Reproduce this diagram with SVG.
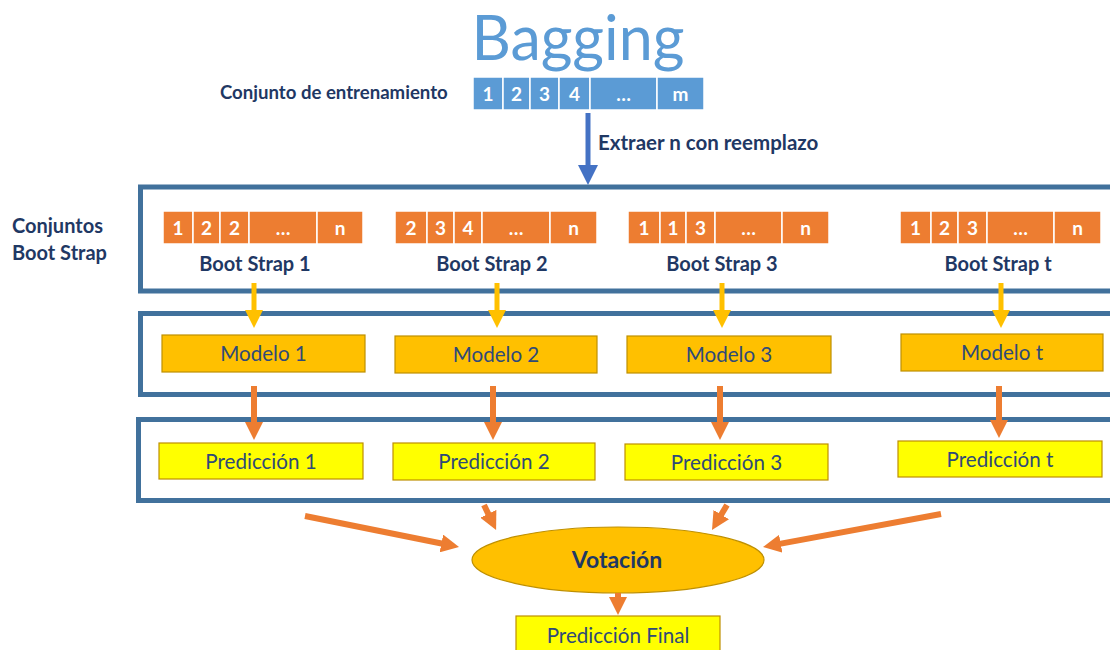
<svg xmlns="http://www.w3.org/2000/svg" width="1110" height="650" viewBox="0 0 1110 650">
  <style>
    .title { font-family: Lato, "Open Sans", sans-serif; font-size: 61px; fill: #5B9BD5; text-anchor: middle; }
    .lbl { font-family: Lato, "Open Sans", sans-serif; font-weight: bold; font-size: 20px; fill: #1F3864; }
    .mid { text-anchor: middle; }
    .cellB { fill: #5B9BD5; stroke: #ffffff; stroke-width: 1.5; }
    .cellO { fill: #ED7D31; stroke: #ffffff; stroke-width: 1.5; }
    .num { font-family: Lato, "Open Sans", sans-serif; font-weight: bold; font-size: 19px; fill: #ffffff; text-anchor: middle; }
    .frame { fill: none; stroke: #41719C; stroke-width: 5; }
    .model { fill: #FFC000; stroke: #BF9000; stroke-width: 1.2; }
    .pred { fill: #FFFF00; stroke: #BF9000; stroke-width: 1.2; }
    .txt { font-family: Lato, "Open Sans", sans-serif; font-size: 20.6px; fill: #2F4A78; text-anchor: middle; }
    .aY { stroke: #FFC000; stroke-width: 5; fill: none; marker-end: url(#hY); }
    .aO { stroke: #ED7D31; stroke-width: 6; fill: none; marker-end: url(#hO); }
    .aB { stroke: #4472C4; stroke-width: 5; fill: none; marker-end: url(#hB); }
  </style>
  <defs>
    <marker id="hY" markerUnits="userSpaceOnUse" markerWidth="18" markerHeight="18" refX="4" refY="9" orient="auto">
      <path d="M0,0 L18,9 L0,18 z" fill="#FFC000"/>
    </marker>
    <marker id="hO" markerUnits="userSpaceOnUse" markerWidth="18" markerHeight="18" refX="4" refY="9" orient="auto">
      <path d="M0,0 L18,9 L0,18 z" fill="#ED7D31"/>
    </marker>
    <marker id="hB" markerUnits="userSpaceOnUse" markerWidth="20" markerHeight="20" refX="4" refY="10" orient="auto">
      <path d="M0,0 L20,10 L0,20 z" fill="#4472C4"/>
    </marker>
  </defs>

  <rect width="1110" height="650" fill="#ffffff"/>

  <!-- title and training set -->
  <g id="title">
    <text class="title" x="578" y="60">Bagging</text>
  </g>
  <g id="training-set">
    <text class="lbl" x="220" y="99" style="font-size:18.6px">Conjunto de entrenamiento</text>
    <rect class="cellB" x="473" y="77" width="30" height="33"/>
    <rect class="cellB" x="503" y="77" width="27" height="33"/>
    <rect class="cellB" x="530" y="77" width="29" height="33"/>
    <rect class="cellB" x="559" y="77" width="31" height="33"/>
    <rect class="cellB" x="590" y="77" width="67" height="33"/>
    <rect class="cellB" x="657" y="77" width="47" height="33"/>
    <text class="num" x="488" y="100.5">1</text>
    <text class="num" x="516.5" y="100.5">2</text>
    <text class="num" x="544.5" y="100.5">3</text>
    <text class="num" x="574.5" y="100.5">4</text>
    <text class="num" x="623.5" y="100.5">…</text>
    <text class="num" x="680.5" y="100.5">m</text>
  </g>
  <text class="lbl" x="598" y="150" style="font-size:20.5px">Extraer n con reemplazo</text>

  <!-- stage frames -->
  <g id="frames">
    <rect class="frame" x="140.5" y="187" width="1000" height="104"/>
    <rect class="frame" x="140.5" y="313.5" width="1000" height="81"/>
    <rect class="frame" x="138.5" y="419.5" width="1000" height="81"/>
  </g>
  <text class="lbl" x="12" y="233">Conjuntos</text>
  <text class="lbl" x="12" y="260">Boot Strap</text>

  <!-- bootstrap samples -->
  <g id="bootstrap-1">
    <rect class="cellO" x="163" y="211" width="30" height="33"/>
    <rect class="cellO" x="193" y="211" width="27" height="33"/>
    <rect class="cellO" x="220" y="211" width="29" height="33"/>
    <rect class="cellO" x="249" y="211" width="68" height="33"/>
    <rect class="cellO" x="317" y="211" width="46" height="33"/>
    <text class="num" x="178" y="234.5">1</text>
    <text class="num" x="206.5" y="234.5">2</text>
    <text class="num" x="234.5" y="234.5">2</text>
    <text class="num" x="283" y="234.5">…</text>
    <text class="num" x="340" y="234.5">n</text>
    <text class="lbl mid" x="255" y="271">Boot Strap 1</text>
  </g>
  <g id="bootstrap-2">
    <rect class="cellO" x="395" y="211" width="32" height="33"/>
    <rect class="cellO" x="427" y="211" width="27" height="33"/>
    <rect class="cellO" x="454" y="211" width="28" height="33"/>
    <rect class="cellO" x="482" y="211" width="68" height="33"/>
    <rect class="cellO" x="550" y="211" width="47" height="33"/>
    <text class="num" x="411" y="234.5">2</text>
    <text class="num" x="440.5" y="234.5">3</text>
    <text class="num" x="468" y="234.5">4</text>
    <text class="num" x="516" y="234.5">…</text>
    <text class="num" x="573.5" y="234.5">n</text>
    <text class="lbl mid" x="492" y="271">Boot Strap 2</text>
  </g>
  <g id="bootstrap-3">
    <rect class="cellO" x="628" y="211" width="32" height="33"/>
    <rect class="cellO" x="660" y="211" width="26" height="33"/>
    <rect class="cellO" x="686" y="211" width="29" height="33"/>
    <rect class="cellO" x="715" y="211" width="67" height="33"/>
    <rect class="cellO" x="782" y="211" width="47" height="33"/>
    <text class="num" x="644" y="234.5">1</text>
    <text class="num" x="673" y="234.5">1</text>
    <text class="num" x="700.5" y="234.5">3</text>
    <text class="num" x="748.5" y="234.5">…</text>
    <text class="num" x="805.5" y="234.5">n</text>
    <text class="lbl mid" x="722" y="271">Boot Strap 3</text>
  </g>
  <g id="bootstrap-t">
    <rect class="cellO" x="900" y="211" width="31" height="33"/>
    <rect class="cellO" x="931" y="211" width="27" height="33"/>
    <rect class="cellO" x="958" y="211" width="29" height="33"/>
    <rect class="cellO" x="987" y="211" width="67" height="33"/>
    <rect class="cellO" x="1054" y="211" width="47" height="33"/>
    <text class="num" x="915.5" y="234.5">1</text>
    <text class="num" x="944.5" y="234.5">2</text>
    <text class="num" x="972.5" y="234.5">3</text>
    <text class="num" x="1020.5" y="234.5">…</text>
    <text class="num" x="1077.5" y="234.5">n</text>
    <text class="lbl mid" x="998" y="271">Boot Strap t</text>
  </g>

  <!-- models -->
  <g id="modelo-1"><rect class="model" x="162" y="335" width="203" height="37"/><text class="txt" x="263.5" y="361">Modelo 1</text></g>
  <g id="modelo-2"><rect class="model" x="395" y="336" width="202" height="37"/><text class="txt" x="496" y="362">Modelo 2</text></g>
  <g id="modelo-3"><rect class="model" x="627" y="336" width="204" height="37"/><text class="txt" x="729" y="362">Modelo 3</text></g>
  <g id="modelo-t"><rect class="model" x="901" y="334" width="202" height="37"/><text class="txt" x="1002" y="360">Modelo t</text></g>

  <!-- predictions -->
  <g id="prediccion-1"><rect class="pred" x="159" y="443" width="204" height="36"/><text class="txt" x="261" y="468.5">Predicción 1</text></g>
  <g id="prediccion-2"><rect class="pred" x="393" y="443" width="202" height="37"/><text class="txt" x="494" y="469">Predicción 2</text></g>
  <g id="prediccion-3"><rect class="pred" x="625" y="444" width="203" height="36"/><text class="txt" x="726.5" y="469.5">Predicción 3</text></g>
  <g id="prediccion-t"><rect class="pred" x="898" y="441" width="204" height="36"/><text class="txt" x="1000" y="466.5">Predicción t</text></g>

  <!-- voting and final prediction -->
  <g id="votacion">
    <ellipse cx="618" cy="560" rx="146" ry="33" fill="#FFC000" stroke="#BF9000" stroke-width="1.2"/>
    <text class="lbl mid" x="617" y="568" style="font-size:23px">Votación</text>
  </g>
  <g id="prediccion-final">
    <rect class="pred" x="516" y="616" width="204" height="40"/>
    <text class="txt" x="618" y="642.5">Predicción Final</text>
  </g>

  <!-- connectors -->
  <g id="connectors">
    <line class="aB" x1="588" y1="113" x2="588" y2="169"/>
    <line class="aY" x1="254" y1="283" x2="254" y2="314"/>
    <line class="aY" x1="497" y1="283" x2="497" y2="314"/>
    <line class="aY" x1="722" y1="283" x2="722" y2="314"/>
    <line class="aY" x1="1001" y1="283" x2="1001" y2="314"/>
    <line class="aO" x1="254" y1="386" x2="254" y2="426"/>
    <line class="aO" x1="493" y1="386" x2="493" y2="426"/>
    <line class="aO" x1="720" y1="386" x2="720" y2="426"/>
    <line class="aO" x1="999" y1="386" x2="999" y2="424"/>
    <line class="aO" x1="305" y1="516" x2="445.3" y2="544.2"/>
    <line class="aO" x1="484" y1="505" x2="490" y2="517.4"/>
    <line class="aO" x1="727" y1="505" x2="719.2" y2="518"/>
    <line class="aO" x1="941" y1="514" x2="776.8" y2="544.4"/>
    <line class="aO" x1="618" y1="593" x2="618" y2="601"/>
  </g>
</svg>
